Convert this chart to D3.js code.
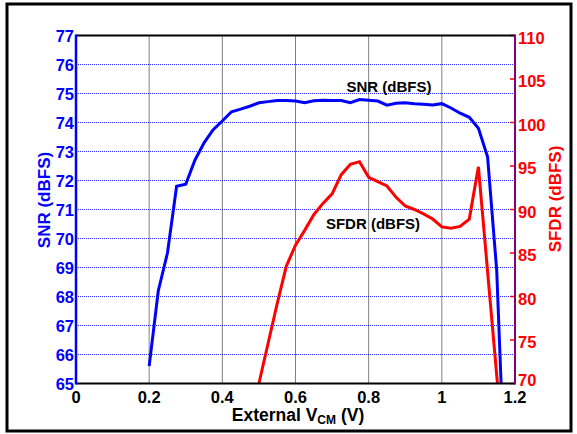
<!DOCTYPE html>
<html><head><meta charset="utf-8">
<script src="https://cdn.jsdelivr.net/npm/d3@7"></script>
<style>
html,body{margin:0;padding:0;background:#fff;}
svg{display:block;font-family:"Liberation Sans",Arial,sans-serif;font-weight:bold;}
</style></head>
<body><svg id="c" width="577" height="434"></svg>
<script>
const snrX = [0.2,0.225,0.25,0.275,0.3,0.325,0.35,0.375,0.4,0.425,0.45,0.475,0.5,0.525,0.55,0.575,0.6,0.625,0.65,0.675,0.7,0.725,0.75,0.775,0.8,0.825,0.85,0.875,0.9,0.925,0.95,0.975,1.0,1.025,1.05,1.075,1.1,1.125,1.15,1.162];
const snrY = [65.6,68.2,69.5,71.8,71.87,72.7,73.3,73.75,74.05,74.37,74.46,74.56,74.68,74.72,74.76,74.76,74.74,74.68,74.75,74.77,74.76,74.76,74.68,74.79,74.77,74.74,74.6,74.66,74.68,74.65,74.63,74.6,74.65,74.5,74.32,74.18,73.8,72.82,68.9,65.0];
const sfdrX = [0.5,0.525,0.55,0.575,0.6,0.625,0.65,0.675,0.7,0.725,0.75,0.775,0.8,0.825,0.85,0.875,0.9,0.925,0.95,0.975,1.0,1.025,1.05,1.075,1.1,1.125,1.152];
const sfdrY = [70.0,74.6,79.2,83.5,85.9,87.6,89.4,90.7,91.8,94.0,95.2,95.5,93.7,93.2,92.7,91.4,90.4,90.0,89.5,88.9,88.0,87.85,88.05,88.9,94.9,82.9,70.0];
const xTicks = [0,0.2,0.4,0.6,0.8,1,1.2];
const xTickLabels = ["0","0.2","0.4","0.6","0.8","1","1.2"];
const snrTicks = [65,66,67,68,69,70,71,72,73,74,75,76,77];
const sfdrTicks = [70,75,80,85,90,95,100,105,110];

const svg = d3.select("#c");
const L = 76, R = 515, T = 35.5, B = 383.5;
const x = d3.scaleLinear().domain([0,1.2]).range([L,R]);
const yL = d3.scaleLinear().domain([65,77]).range([B,T]);
const yR = d3.scaleLinear().domain([70,110]).range([B,T]);

// outer frame
svg.append("rect").attr("x",7).attr("y",4).attr("width",564).attr("height",427)
  .attr("fill","none").attr("stroke","#000").attr("stroke-width",3);

// grid
const g = svg.append("g");
g.selectAll(".hg").data(snrTicks.slice(1,-1)).join("line")
  .attr("x1",L).attr("x2",R).attr("y1",d=>yL(d)).attr("y2",d=>yL(d))
  .attr("stroke","#2a2aff").attr("stroke-width",1).attr("stroke-dasharray","1,1");
g.selectAll(".vg").data(xTicks.slice(1,-1)).join("line")
  .attr("x1",d=>x(d)).attr("x2",d=>x(d)).attr("y1",T).attr("y2",B)
  .attr("stroke","#000").attr("stroke-width",1).attr("stroke-dasharray","1,1");

// right axis ticks (red, inward)
svg.selectAll(".rt").data(sfdrTicks).join("line")
  .attr("x1",R-5).attr("x2",R).attr("y1",d=>yR(d)).attr("y2",d=>yR(d))
  .attr("stroke","#ff0000").attr("stroke-width",1.5);

// clip
svg.append("clipPath").attr("id","pc").append("rect").attr("x",L).attr("y",T).attr("width",R-L).attr("height",B-T);

const lineL = d3.line().x(d=>x(d[0])).y(d=>yL(d[1]));
const lineR = d3.line().x(d=>x(d[0])).y(d=>yR(d[1]));
svg.append("path").datum(sfdrX.map((v,i)=>[v,sfdrY[i]])).attr("d",lineR)
  .attr("fill","none").attr("stroke","#ff0000").attr("stroke-width",3).attr("clip-path","url(#pc)");
svg.append("path").datum(snrX.map((v,i)=>[v,snrY[i]])).attr("d",lineL)
  .attr("fill","none").attr("stroke","#0000ff").attr("stroke-width",3).attr("clip-path","url(#pc)");

// axes lines
svg.append("line").attr("x1",L).attr("x2",R).attr("y1",T).attr("y2",T).attr("stroke","#000").attr("stroke-width",2);
svg.append("line").attr("x1",L).attr("x2",R).attr("y1",B).attr("y2",B).attr("stroke","#000").attr("stroke-width",2);
svg.append("line").attr("x1",R).attr("x2",R).attr("y1",T-1).attr("y2",B+1).attr("stroke","#800080").attr("stroke-width",2);
svg.append("line").attr("x1",L).attr("x2",L).attr("y1",T-1).attr("y2",B+1).attr("stroke","#0000ff").attr("stroke-width",2.5);

// tick labels
svg.selectAll(".lt").data(snrTicks).join("text")
  .attr("x",L-2).attr("y",d=>yL(d)+6).attr("text-anchor","end")
  .attr("fill","#0000ff").attr("font-size",16.5).text(d=>d);
svg.selectAll(".rtl").data(sfdrTicks).join("text")
  .attr("x",R+3).attr("y",d=>Math.min(yR(d)+8, B+2)).attr("text-anchor","start")
  .attr("fill","#ff0000").attr("font-size",16.5).text(d=>d);
svg.selectAll(".xt").data(xTicks).join("text")
  .attr("x",d=>x(d)).attr("y",403).attr("text-anchor","middle")
  .attr("fill","#000").attr("font-size",16.5).text((d,i)=>xTickLabels[i]);

// titles
const xt = svg.append("text").attr("x",298).attr("y",421).attr("text-anchor","middle").attr("font-size",17.5).attr("fill","#000");
xt.append("tspan").text("External V");
xt.append("tspan").attr("font-size",12).attr("dy",3).text("CM");
xt.append("tspan").attr("dy",-3).text(" (V)");

svg.append("text").attr("transform","translate(50,200) rotate(-90)").attr("text-anchor","middle")
  .attr("font-size",17).attr("fill","#0000ff").text("SNR (dBFS)");
svg.append("text").attr("transform","translate(561,199) rotate(-90)").attr("text-anchor","middle")
  .attr("font-size",17).attr("fill","#ff0000").text("SFDR (dBFS)");

// annotations
svg.append("text").attr("x",389).attr("y",92).attr("text-anchor","middle").attr("font-size",15).attr("fill","#000").text("SNR (dBFS)");
svg.append("text").attr("x",373).attr("y",229).attr("text-anchor","middle").attr("font-size",15).attr("fill","#000").text("SFDR (dBFS)");
</script></body></html>
